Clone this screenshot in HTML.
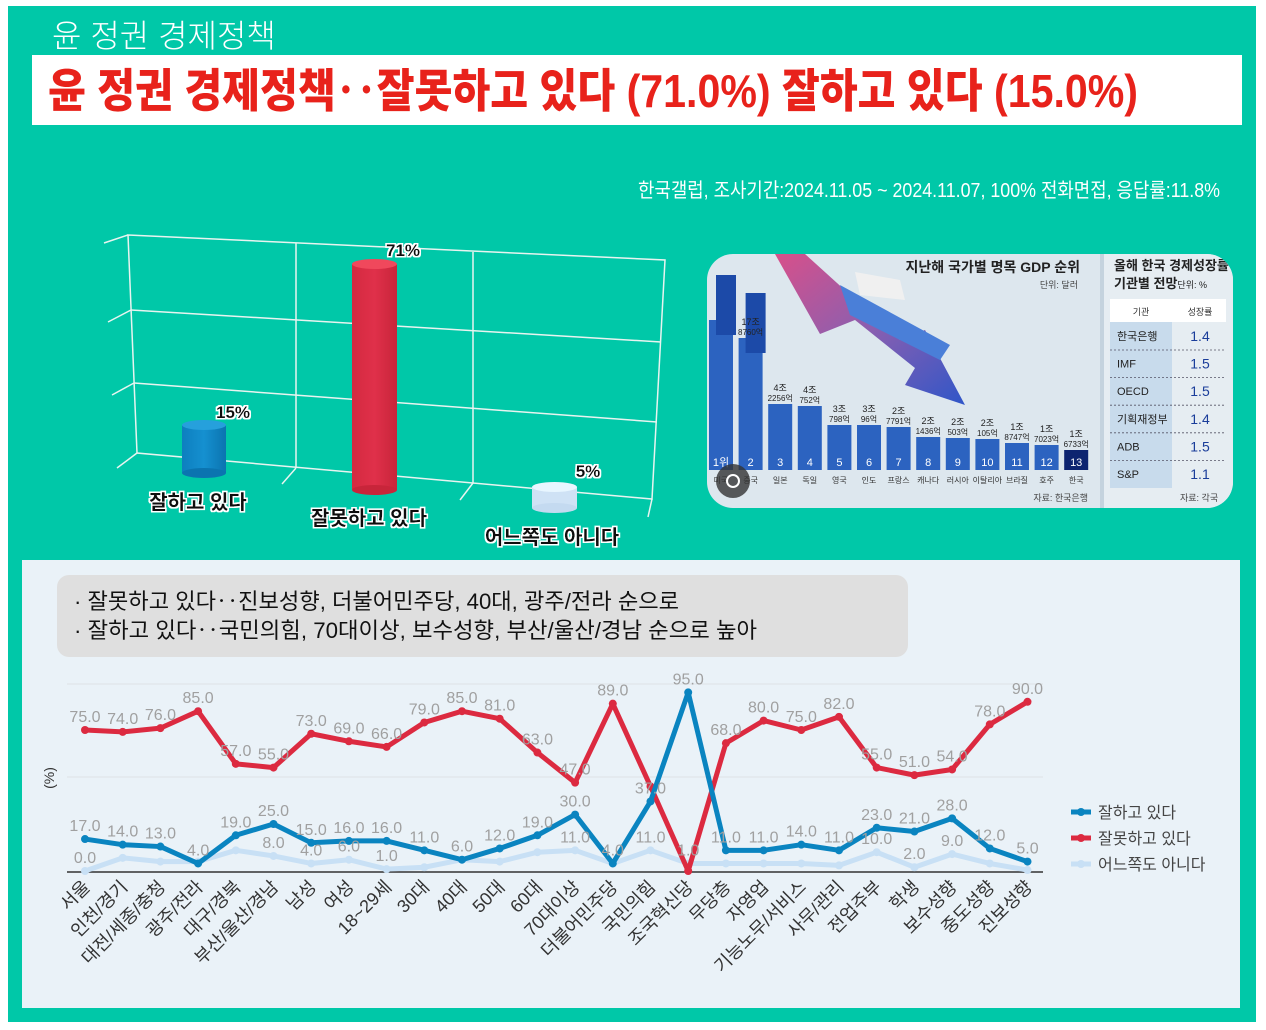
<!DOCTYPE html>
<html><head><meta charset="utf-8">
<style>
html,body{margin:0;padding:0;background:#fff;}
svg{display:block;}
text{font-family:"Liberation Sans","Noto Sans CJK KR",sans-serif;}
</style></head>
<body>
<svg id="s" width="1266" height="1030" viewBox="0 0 1266 1030" xmlns="http://www.w3.org/2000/svg">
<defs>
<linearGradient id="ar" x1="0" y1="0" x2="1" y2="1">
<stop offset="0" stop-color="#d8508a"/><stop offset="0.5" stop-color="#8a5fb0"/><stop offset="1" stop-color="#2f56c8"/></linearGradient>
<linearGradient id="cb" x1="0" x2="1"><stop offset="0" stop-color="#0d7fbf"/><stop offset="0.5" stop-color="#1590d0"/><stop offset="1" stop-color="#0b74b0"/></linearGradient>
<linearGradient id="cr" x1="0" x2="1"><stop offset="0" stop-color="#d42a40"/><stop offset="0.5" stop-color="#e0304a"/><stop offset="1" stop-color="#c8253a"/></linearGradient>
<filter id="glow"><feMorphology operator="dilate" radius="1.5" in="SourceAlpha" result="d"/><feFlood flood-color="#fff"/><feComposite in2="d" operator="in" result="w"/><feMerge><feMergeNode in="w"/><feMergeNode in="SourceGraphic"/></feMerge></filter>
<clipPath id="inset"><rect x="707" y="254" width="526" height="254" rx="26"/></clipPath>
</defs>
<rect x="0" y="0" width="1266" height="1030" fill="#fff"/>
<rect x="8" y="6" width="1248" height="1016" fill="#00c8a8"/>
<text x="52" y="47" font-size="32" fill="#fff" font-weight="300" font-family="'Noto Sans CJK KR',sans-serif">윤 정권 경제정책</text>
<rect x="32" y="55" width="1210" height="70" fill="#fff"/>
<text x="48" y="107" font-size="46" fill="#e8221b" font-weight="900" textLength="1090" lengthAdjust="spacingAndGlyphs" font-family="'Noto Sans CJK KR','Liberation Sans',sans-serif">윤 정권 경제정책‥잘못하고 있다 (71.0%) 잘하고 있다 (15.0%)</text>
<text x="1220" y="197" font-size="20" fill="#fff" text-anchor="end" textLength="582" lengthAdjust="spacingAndGlyphs">한국갤럽, 조사기간:2024.11.05 ~ 2024.11.07, 100% 전화면접, 응답률:11.8%</text>

<g stroke="#e8f4f0" stroke-width="1.5" fill="none">
<path d="M128 235 L665 260 L652 499 L137 453 Z"/>
<path d="M131 310 L661 342"/><path d="M134 383 L657 422"/>
<path d="M296 243 L296 468"/><path d="M473 252 L473 483"/>
<path d="M128 235 L104 243"/><path d="M131 310 L108 322"/><path d="M134 383 L112 395"/><path d="M137 453 L117 468"/>
<path d="M296 468 L282 484"/><path d="M473 483 L460 500"/><path d="M652 499 L648 517"/>
</g>
<rect x="182" y="425" width="44" height="48" fill="url(#cb)"/><ellipse cx="204" cy="473" rx="22" ry="5" fill="#0b74b0"/><ellipse cx="204" cy="425" rx="22" ry="5" fill="#26a0dc"/>
<rect x="352" y="264" width="45" height="226" fill="url(#cr)"/><ellipse cx="374.5" cy="490" rx="22.5" ry="5" fill="#c8253a"/><ellipse cx="374.5" cy="264" rx="22.5" ry="5" fill="#f0485c"/>
<rect x="532" y="487" width="45" height="21" fill="#cfe2f5"/><ellipse cx="554.5" cy="508" rx="22.5" ry="5" fill="#c4daf0"/><ellipse cx="554.5" cy="487" rx="22.5" ry="5" fill="#e8f6ff"/>
<g font-weight="bold" fill="#111" filter="url(#glow)">
<text x="233" y="418" font-size="17" text-anchor="middle">15%</text>
<text x="403" y="256" font-size="17" text-anchor="middle">71%</text>
<text x="588" y="477" font-size="17" text-anchor="middle">5%</text>
<text x="198" y="509" font-size="20" text-anchor="middle">잘하고 있다</text>
<text x="369" y="525" font-size="20" text-anchor="middle">잘못하고 있다</text>
<text x="552" y="544" font-size="20" text-anchor="middle">어느쪽도 아니다</text>
</g>

<g clip-path="url(#inset)">
<rect x="707" y="254" width="526" height="254" fill="#dde7ee"/>
<rect x="1100" y="254" width="133" height="254" fill="#e6edf2"/>
<rect x="1100" y="254" width="4" height="254" fill="#c5d3de"/>
<polygon points="775,254 805,254 900,340 925,330 965,405 905,385 915,368 855,320 820,334" fill="url(#ar)"/>
<polygon points="840,285 950,345 940,360 850,315" fill="#4a7fd8"/>
<polygon points="855,272 900,280 905,300 860,295" fill="#f0f0f0"/>
<g id="gdp"></g>
<text x="1080" y="272" font-size="14" text-anchor="end" fill="#222" font-weight="bold">지난해 국가별 명목 GDP 순위</text>
<text x="1078" y="288" font-size="9" text-anchor="end" fill="#444">단위: 달러</text>
<text x="1088" y="501" font-size="9" text-anchor="end" fill="#444">자료: 한국은행</text>
<text x="1114" y="270" font-size="13" fill="#222" font-weight="bold">올해 한국 경제성장률</text>
<text x="1114" y="288" font-size="13" fill="#222" font-weight="bold">기관별 전망<tspan font-size="9" font-weight="normal">단위: %</tspan></text>
<rect x="1110" y="299" width="116" height="23" fill="#fff"/>
<rect x="1110" y="322" width="62" height="166" fill="#c8dbec"/>
<text x="1141" y="315" font-size="9" text-anchor="middle" fill="#333">기관</text>
<text x="1200" y="315" font-size="9" text-anchor="middle" fill="#333">성장률</text>
<g id="tbl"></g>
<text x="1180" y="501" font-size="9" fill="#444">자료: 각국</text>
<circle cx="733" cy="481" r="17" fill="#333" opacity="0.8"/><circle cx="733" cy="481" r="6" fill="none" stroke="#fff" stroke-width="2"/>
</g>

<rect x="22" y="560" width="1218" height="448" fill="#eaf2f8"/>
<rect x="57" y="575" width="851" height="82" rx="12" fill="#dfdfdf"/>
<text x="74" y="609" font-size="22" fill="#111" textLength="605" lengthAdjust="spacingAndGlyphs">· 잘못하고 있다‥진보성향, 더불어민주당, 40대, 광주/전라 순으로</text>
<text x="74" y="638" font-size="22" fill="#111" textLength="683" lengthAdjust="spacingAndGlyphs">· 잘하고 있다‥국민의힘, 70대이상, 보수성향, 부산/울산/경남 순으로 높아</text>
<line x1="67" y1="684" x2="1043" y2="684" stroke="#dde2e6"/>
<line x1="67" y1="777" x2="1043" y2="777" stroke="#dde2e6"/>
<line x1="67" y1="872" x2="1043" y2="872" stroke="#333" stroke-width="1.5"/>
<text transform="translate(54,778) rotate(-90)" font-size="14" fill="#333" text-anchor="middle">(%)</text>
<g id="chart"></g>
<g font-size="16" fill="#444">
<line x1="1071" y1="812" x2="1091" y2="812" stroke="#0a84c0" stroke-width="5"/><circle cx="1081" cy="812" r="4" fill="#0a84c0"/><text x="1098" y="818">잘하고 있다</text>
<line x1="1071" y1="838" x2="1091" y2="838" stroke="#dc2a40" stroke-width="5"/><circle cx="1081" cy="838" r="4" fill="#dc2a40"/><text x="1098" y="844">잘못하고 있다</text>
<line x1="1071" y1="864" x2="1091" y2="864" stroke="#c8e0f5" stroke-width="5"/><circle cx="1081" cy="864" r="4" fill="#c8e0f5"/><text x="1098" y="870">어느쪽도 아니다</text>
</g>
</svg>
<script>
var NS="http://www.w3.org/2000/svg";
function el(p,t,a,txt){var e=document.createElementNS(NS,t);for(var k in a)e.setAttribute(k,a[k]);if(txt!==undefined)e.textContent=txt;p.appendChild(e);return e;}
var g=document.getElementById('gdp');
var tops=[320,338,404,406,425,425,427,437,438,439,443,445,450];
var names=['미국','중국','일본','독일','영국','인도','프랑스','캐나다','러시아','이탈리아','브라질','호주','한국'];
var vals=[['',''],['17조','8760억'],['4조','2256억'],['4조','752억'],['3조','798억'],['3조','96억'],['2조','7791억'],['2조','1436억'],['2조','503억'],['2조','105억'],['1조','8747억'],['1조','7023억'],['1조','6733억']];
for(var i=0;i<13;i++){var cx=721+29.6*i;var c=i==12?'#0d2470':'#2c63c0';
el(g,'rect',{x:cx-12,y:tops[i],width:24,height:470-tops[i],fill:c});
if(i<2)el(g,'rect',{x:cx-5,y:tops[i]-45,width:20,height:60,fill:'#1c4aa8'});
el(g,'text',{x:cx,y:466,'font-size':11,fill:'#fff','text-anchor':'middle'},i==0?'1위':String(i+1));
el(g,'text',{x:cx,y:483,'font-size':8,fill:'#333','text-anchor':'middle'},names[i]);
el(g,'text',{x:cx,y:tops[i]-13,'font-size':9,fill:'#222','text-anchor':'middle'},vals[i][0]);
el(g,'text',{x:cx,y:tops[i]-3,'font-size':8,fill:'#222','text-anchor':'middle'},vals[i][1]);}
var t=document.getElementById('tbl');
var rows=[['한국은행','1.4'],['IMF','1.5'],['OECD','1.5'],['기획재정부','1.4'],['ADB','1.5'],['S&P','1.1']];
for(var r=0;r<6;r++){var y=340+r*27.6;
el(t,'text',{x:1117,y:y,'font-size':11,fill:'#222'},rows[r][0]);
el(t,'text',{x:1200,y:y+1,'font-size':14,fill:'#1a3d9a','text-anchor':'middle'},rows[r][1]);
if(r<5)el(t,'line',{x1:1110,y1:y+10,x2:1226,y2:y+10,stroke:'#556','stroke-dasharray':'2,2','stroke-width':0.8});}
var cats=['서울','인천/경기','대전/세종/충청','광주/전라','대구/경북','부산/울산/경남','남성','여성','18~29세','30대','40대','50대','60대','70대이상','더불어민주당','국민의힘','조국혁신당','무당층','자영업','기능노무/서비스','사무/관리','전업주부','학생','보수성향','중도성향','진보성향'];
var B=[17,14,13,4,19,25,15,16,16,11,6,12,19,30,4,37,95,11,11,14,11,23,21,28,12,5];
var R=[75,74,76,85,57,55,73,69,66,79,85,81,63,47,89,45,0,68,80,75,82,55,51,54,78,90];
var G=[0,7,5,5,11,8,4,6,1,2,6,5,10,11,4,11,4,4,4,4,3,10,2,9,4,0.5];
var GL={0:'0.0',5:'8.0',6:'4.0',7:'6.0',8:'1.0',13:'11.0',15:'11.0',16:'1.0',21:'10.0',22:'2.0',23:'9.0'};
var ch=document.getElementById('chart');
function X(i){return 85+37.7*i;} function Y(v){return 871-1.88*v;}
function line(d,c){var p='';for(var i=0;i<d.length;i++)p+=X(i)+','+Y(d[i])+' ';
el(ch,'polyline',{points:p,fill:'none',stroke:c,'stroke-width':5,'stroke-linejoin':'round'});
for(var i=0;i<d.length;i++)el(ch,'circle',{cx:X(i),cy:Y(d[i]),r:4,fill:c});}
line(G,'#c8e0f5');line(R,'#dc2a40');line(B,'#0a84c0');
function lab(x,y,s){el(ch,'text',{x:x,y:y,'font-size':16,fill:'#a0a0a0','text-anchor':'middle'},s);}
for(var i=0;i<26;i++){
if(i!=15&&i!=16)lab(X(i),Y(R[i])-8,R[i].toFixed(1));
lab(X(i),Y(B[i])-8,B[i].toFixed(1));
if(GL[i])lab(X(i),Y(G[i])-8,GL[i]);
el(ch,'text',{transform:'translate('+(X(i)+6)+',888) rotate(-45)','font-size':18,fill:'#333','text-anchor':'end'},cats[i]);}
</script>
</body></html>
